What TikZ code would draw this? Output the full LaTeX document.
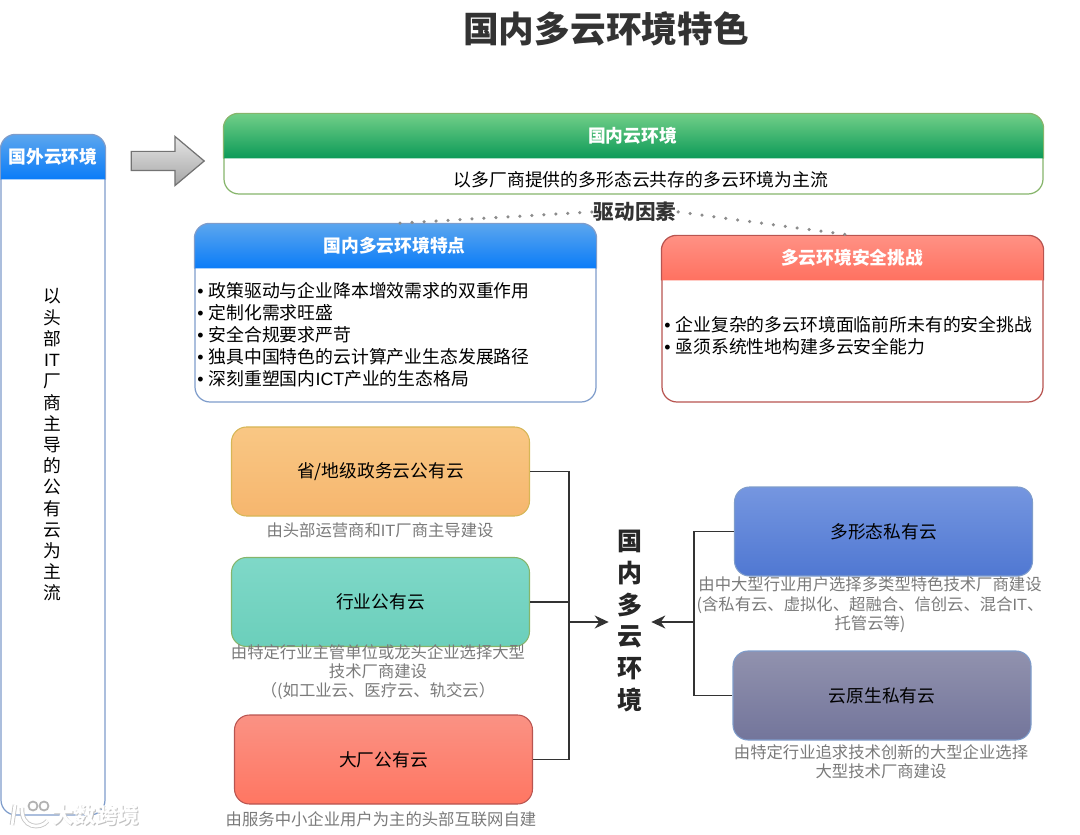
\documentclass[tikz,border=0pt]{standalone}
\usepackage{fontspec}
\setmainfont{Noto Sans CJK SC}
\newfontfamily\latinfont{Liberation Sans}
\usetikzlibrary{shapes,arrows.meta,calc}

\definecolor{blue1}{HTML}{5CA6EE}
\definecolor{blue2}{HTML}{0A7CF8}
\definecolor{blueline}{HTML}{7E9CCB}
\definecolor{green1}{HTML}{72CF88}
\definecolor{green2}{HTML}{0C9A58}
\definecolor{greenline}{HTML}{86B56B}
\definecolor{red1}{HTML}{FF9184}
\definecolor{red2}{HTML}{FF7160}
\definecolor{redline}{HTML}{B85450}
\definecolor{red3}{HTML}{FA9284}
\definecolor{red4}{HTML}{FF7662}
\definecolor{orange1}{HTML}{F9C784}
\definecolor{orange2}{HTML}{F6B66E}
\definecolor{orangeline}{HTML}{D6B656}
\definecolor{teal1}{HTML}{7FD8C8}
\definecolor{teal2}{HTML}{6BCFBB}
\definecolor{priv1}{HTML}{7596E0}
\definecolor{priv2}{HTML}{5078D2}
\definecolor{native1}{HTML}{9192AE}
\definecolor{native2}{HTML}{73759B}

\newcommand{\dotitem}{{\latinfont • }}

\tikzset{
    lane/.style={rectangle,draw,fill=white,rounded corners=0.3cm,line width=0.7pt},
    headline/.style={text=white,font=\fontsize{10.1}{12.5}\selectfont\bfseries},
    bodyline/.style={align=left,inner sep=0pt,font=\fontsize{10.15}{12.5}\selectfont},
    cloud/.style={rectangle,draw,rounded corners=0.3cm,minimum width=5.96cm,minimum height=1.78cm,line width=0.6pt,font=\fontsize{10.1}{12.5}\selectfont},
    note/.style={align=center,inner sep=0pt,text=black!52,font=\fontsize{9.3}{11}\selectfont},
    link/.style={draw=black!80,line width=1pt},
    dotline/.style={draw=black!45,line width=2pt,line cap=round,dash pattern=on 0pt off 0.24cm},
    marktext/.style={inner sep=0pt,font=\fontsize{12.3}{14}\selectfont\bfseries},
    markstroke/.style={draw=black!22,double=white,double distance=1.6pt,line width=0.5pt},
    markring/.style={draw=black!30,line width=1pt}
}

\begin{document}
\begin{tikzpicture}
    \useasboundingbox (0,0) rectangle (21.6,16.68);

    % Title
    \node[font=\fontsize{20.3}{24}\selectfont\bfseries,text=black!80] (title) at (12.12,16.1) {国内多云环境特色};

    % Foreign cloud
    \node[lane,draw=blueline,minimum width=2.08cm,minimum height=13.6cm] (foreign) at (1.06,7.18) {};
    \draw[draw=blueline,line width=0.7pt,top color=blue1,bottom color=blue2,rounded corners=0.3cm]
        ($(foreign.north west)+(0,-0.9)$) -- (foreign.north west) -- (foreign.north east) -- ($(foreign.north east)+(0,-0.9)$);
    \node[headline] (foreignhead) at (1.06,13.54) {国外云环境};
    \node[bodyline,align=center,font=\fontsize{10.1}{12.07}\selectfont] (foreigntext) at (1.04,7.78) {以\\头\\部\\{\latinfont IT}\\厂\\商\\主\\导\\的\\公\\有\\云\\为\\主\\流};

    % Arrow to domestic
    \node[single arrow,draw=black!55,top color=black!10,bottom color=black!35,minimum height=1.46cm,single arrow head extend=0.3cm,single arrow tip angle=80,inner xsep=0pt,inner ysep=0.18cm,line width=0.7pt] (bigarrow) at (3.24,13.46) {};

    % Domestic cloud
    \node[lane,draw=greenline,minimum width=16.38cm,minimum height=1.6cm] (domestic) at (12.67,13.6) {};
    \draw[draw=greenline,line width=0.7pt,top color=green1,bottom color=green2,rounded corners=0.3cm]
        ($(domestic.north west)+(0,-0.9)$) -- (domestic.north west) -- (domestic.north east) -- ($(domestic.north east)+(0,-0.9)$);
    \node[headline] (domestichead) at (12.65,13.96) {国内云环境};
    \node[bodyline] (domestictext) at (12.82,13.08) {以多厂商提供的多形态云共存的多云环境为主流};

    % Features
    \node[lane,draw=blueline,minimum width=8.02cm,minimum height=3.56cm] (feature) at (7.91,10.42) {};
    \draw[draw=blueline,line width=0.7pt,top color=blue1,bottom color=blue2,rounded corners=0.3cm]
        ($(feature.north west)+(0,-0.9)$) -- (feature.north west) -- (feature.north east) -- ($(feature.north east)+(0,-0.9)$);
    \node[headline] (featurehead) at (7.89,11.76) {国内多云环境特点};
    \node[bodyline,anchor=west] (featuretext) at (3.94,9.98) {
        \dotitem 政策驱动与企业降本增效需求的双重作用\\
        \dotitem 定制化需求旺盛\\
        \dotitem 安全合规要求严苛\\
        \dotitem 独具中国特色的云计算产业生态发展路径\\
        \dotitem 深刻重塑国内{\latinfont ICT}产业的生态格局
    };

    % Challenges
    \node[lane,draw=redline,minimum width=7.62cm,minimum height=3.32cm] (challenge) at (17.05,10.3) {};
    \draw[draw=redline,line width=0.7pt,top color=red1,bottom color=red2,rounded corners=0.3cm]
        ($(challenge.north west)+(0,-0.9)$) -- (challenge.north west) -- (challenge.north east) -- ($(challenge.north east)+(0,-0.9)$);
    \node[headline] (challengehead) at (17.04,11.52) {多云环境安全挑战};
    \node[bodyline,anchor=west] (challengetext) at (13.28,9.96) {
        \dotitem 企业复杂的多云环境面临前所未有的安全挑战\\
        \dotitem 亟须系统性地构建多云安全能力
    };

    % Driving factors
    \node[inner sep=1pt,text=black!80,font=\fontsize{11.7}{13}\selectfont\bfseries] (driver) at (12.7,12.44) {驱动因素};
    \draw[dotline] (driver.west) -- (feature.north);
    \draw[dotline] (driver.east) -- (challenge.north);

    % Public clouds
    \node[cloud,draw=orangeline,top color=orange1,bottom color=orange2] (province) at (7.61,7.25) {省/地级政务云公有云};
    \node[note] (provincenote) at (7.6,6.08) {由头部运营商和{\latinfont IT}厂商主导建设};

    \node[cloud,draw=greenline,top color=teal1,bottom color=teal2] (industry) at (7.61,4.64) {行业公有云};
    \node[note] (industrynote) at (7.56,3.24) {由特定行业主管单位或龙头企业选择大型\\技术厂商建设\\（(如工业云、医疗云、轨交云）};

    \node[cloud,draw=redline,top color=red3,bottom color=red4] (vendor) at (7.67,1.49) {大厂公有云};
    \node[note] (vendornote) at (7.62,0.3) {由服务中小企业用户为主的头部互联网自建};

    % Private clouds
    \node[cloud,draw=blueline,top color=priv1,bottom color=priv2] (polymorph) at (17.67,6.05) {多形态私有云};
    \node[note] (polymorphnote) at (17.4,4.58) {由中大型行业用户选择多类型特色技术厂商建设\\(含私有云、虚拟化、超融合、信创云、混合{\latinfont IT}、\\托管云等)};

    \node[cloud,draw=blueline,top color=native1,bottom color=native2] (native) at (17.64,2.77) {云原生私有云};
    \node[note] (nativenote) at (17.62,1.44) {由特定行业追求技术创新的大型企业选择\\大型技术厂商建设};

    % Center
    \node[align=center,inner sep=0.17cm,text=black!85,font=\fontsize{14.2}{18.1}\selectfont\bfseries] (env) at (12.6,4.26) {国\\内\\多\\云\\环\\境};
    \coordinate (leftjoin) at (11.38,4.24);
    \coordinate (rightjoin) at (13.88,4.24);

    \draw[link] (province.east) -| (leftjoin);
    \draw[link] (vendor.east) -| (leftjoin);
    \draw[link] (industry.east) -| (leftjoin);
    \draw[link,-{Stealth[length=0.28cm,width=0.26cm]}] (leftjoin) -- (leftjoin -| env.west);

    \draw[link] (polymorph.west) -| (rightjoin);
    \draw[link] (native.west) -| (rightjoin);
    \draw[link,-{Stealth[length=0.28cm,width=0.26cm]}] (rightjoin) -- (rightjoin -| env.east);

    % Watermark
    \node[marktext,text=black!25] (markshadow) at (1.94,0.36) {大数跨境};
    \node[marktext,text=white] (mark) at (1.92,0.38) {大数跨境};
    \draw[markstroke] (0.3,0.58) -- (0.24,0.18);
    \draw[markstroke] (0.44,0.52) .. controls (0.42,0.12) and (0.8,0.08) .. (0.95,0.26);
    \draw[markring] (0.66,0.56) circle (0.09);
    \draw[markring] (0.88,0.56) circle (0.09);
\end{tikzpicture}
\end{document}
